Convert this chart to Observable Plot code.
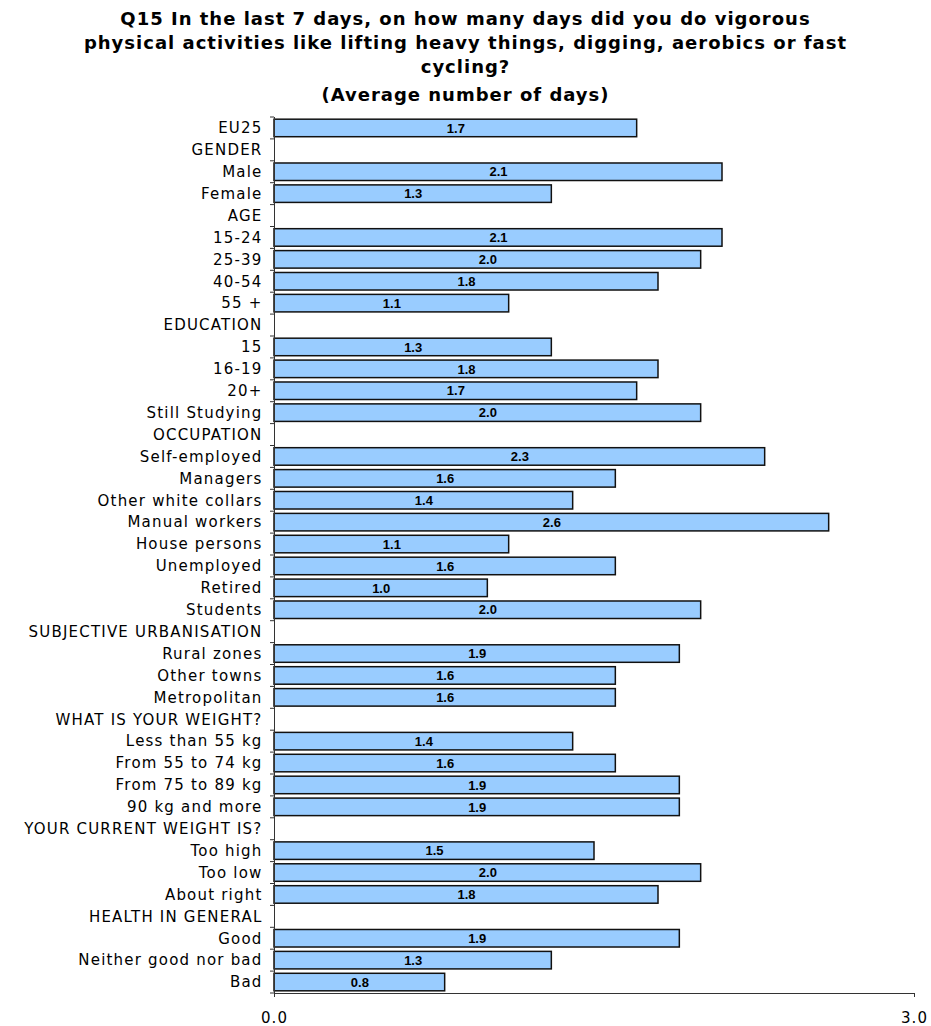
<!DOCTYPE html>
<html>
<head>
<meta charset="utf-8">
<script src="https://cdn.jsdelivr.net/npm/d3@7"></script>
<script src="https://cdn.jsdelivr.net/npm/@observablehq/plot@0.6"></script>
<style>
  body { margin: 0; background: #fff; }
  #title { width: 931px; text-align: center; font-family: "DejaVu Sans", Verdana, sans-serif; font-weight: bold; font-size: 18px; letter-spacing: 1px; color: #000; }
  #title .l1 { line-height: 24px; padding-top: 7px; }
  #title .l2 { line-height: 24px; margin-top: 4px; }
  #chart svg g[aria-label="y-axis tick label"] text { letter-spacing: 1.2px; }
  #chart svg g[aria-label="x-axis tick label"] text { letter-spacing: 1px; }
</style>
</head>
<body>
<div id="title">
  <div class="l1">Q15 In the last 7 days, on how many days did you do vigorous<br>physical activities like lifting heavy things, digging, aerobics or fast<br>cycling?</div>
  <div class="l2">(Average number of days)</div>
</div>
<div id="chart"></div>
<script>
const rows = [
  "EU25", "GENDER", "Male", "Female", "AGE", "15-24", "25-39", "40-54", "55 +",
  "EDUCATION", "15", "16-19", "20+", "Still Studying",
  "OCCUPATION", "Self-employed", "Managers", "Other white collars", "Manual workers",
  "House persons", "Unemployed", "Retired", "Students",
  "SUBJECTIVE URBANISATION", "Rural zones", "Other towns", "Metropolitan",
  "WHAT IS YOUR WEIGHT?", "Less than 55 kg", "From 55 to 74 kg", "From 75 to 89 kg", "90 kg and more",
  "YOUR CURRENT WEIGHT IS?", "Too high", "Too low", "About right",
  "HEALTH IN GENERAL", "Good", "Neither good nor bad", "Bad"
];
const values = [
  1.7, null, 2.1, 1.3, null, 2.1, 2.0, 1.8, 1.1,
  null, 1.3, 1.8, 1.7, 2.0,
  null, 2.3, 1.6, 1.4, 2.6,
  1.1, 1.6, 1.0, 2.0,
  null, 1.9, 1.6, 1.6,
  null, 1.4, 1.6, 1.9, 1.9,
  null, 1.5, 2.0, 1.8,
  null, 1.9, 1.3, 0.8
];
const xTicks = [0, 3];

const data = rows.map((row, i) => ({row, value: values[i]})).filter(d => d.value != null);
const fmt = d3.format(".1f");

// small tick marks at the band boundaries of the category axis
function boundaryTicks(index, scales, vals, dims) {
  const g = d3.create("svg:g").attr("aria-label", "band boundary ticks");
  const top = dims.marginTop;
  const bottom = dims.height - dims.marginBottom;
  const n = rows.length;
  const step = (bottom - top) / n;
  const x0 = dims.marginLeft;
  for (let k = 0; k <= n; k++) {
    const yy = top + k * step;
    g.append("line").attr("x1", x0 - 4).attr("x2", x0).attr("y1", yy).attr("y2", yy)
      .attr("stroke", "#333").attr("stroke-width", 1);
  }
  return g.node();
}

const chart = Plot.plot({
  width: 931,
  height: 919,
  marginTop: 10,
  marginBottom: 33,
  marginLeft: 274,
  marginRight: 17,
  style: {fontFamily: "'DejaVu Sans', Verdana, sans-serif", fontSize: "15px", background: "#fff", color: "#000", overflow: "visible"},
  x: {domain: [0, 3]},
  y: {domain: rows, paddingInner: 0.2, paddingOuter: 0.1},
  marks: [
    Plot.barX(data, {y: "row", x: "value", fill: "#99ccff", stroke: "#111", strokeWidth: 1.5}),
    Plot.text(data, {y: "row", x: d => d.value / 2, text: d => fmt(d.value), fontWeight: "bold", fontSize: 13, fontFamily: "'Liberation Sans', Arial, sans-serif", fill: "#000"}),
    Plot.axisY({tickSize: 0, tickPadding: 12, fontSize: 15, label: null}),
    Plot.axisX({ticks: xTicks, tickFormat: fmt, tickSize: 4, tickPadding: 15, fontSize: 15, label: null, stroke: "#333"}),
    Plot.frame({anchor: "left", stroke: "#333"}),
    Plot.frame({anchor: "bottom", stroke: "#333"}),
    boundaryTicks
  ]
});
document.getElementById("chart").appendChild(chart);
</script>
</body>
</html>
